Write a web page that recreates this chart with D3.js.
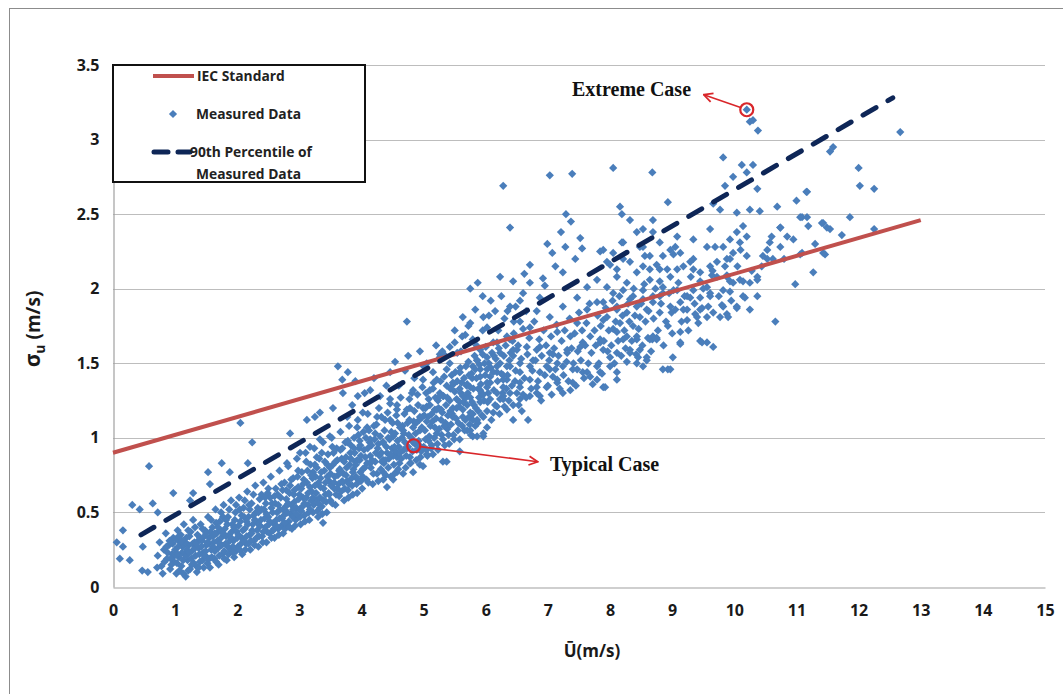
<!DOCTYPE html>
<html>
<head>
<meta charset="utf-8">
<script src="https://cdn.jsdelivr.net/npm/d3@7/dist/d3.min.js"></script>
<style>
  html, body { margin: 0; padding: 0; background: #fff; }
  svg { display: block; }
</style>
</head>
<body>
<svg id="chart" width="1063" height="694"></svg>
<script>
// Axis ticks
const xTicks = [0,1,2,3,4,5,6,7,8,9,10,11,12,13,14,15];
const yTicks = [0,0.5,1,1.5,2,2.5,3,3.5];

// IEC standard turbulence line (wind speed, sigma)
const iecLine = [[0,0.9],[13,2.46]];
// 90th percentile fit of the measured data
const p90Line = [[0.45,0.35],[12.55,3.28]];

// Highlighted cases: [wind speed, sigma]
const extremeCase = [10.2, 3.2];
const typicalCase = [4.84, 0.947];

// Measured data: [mean wind speed (m/s), sigma_u (m/s)]
const measuredLow = [
  [0.06,0.30],[0.11,0.19],[0.16,0.38],[0.16,0.27],[0.27,0.18],[0.31,0.55],[0.43,0.52],[0.48,0.27],
  [0.47,0.11],[0.56,0.10],[0.58,0.81],[0.64,0.56],[0.71,0.13],[0.72,0.50],
  [0.72,0.21],[0.75,0.30],[0.78,0.14],[0.8,0.09],[0.82,0.25],[0.85,0.36],[0.87,0.19],[0.9,0.28],
  [0.92,0.12],[0.95,0.22],[0.97,0.33],[0.98,0.17],[0.97,0.63],
  [1.0,0.25],[1.02,0.09],[1.04,0.38],[1.06,0.2],[1.08,0.3],[1.1,0.14],[1.12,0.27],[1.14,0.42],
  [1.15,0.22],[1.17,0.07],[1.18,0.33],[1.2,0.18],[1.22,0.28],[1.24,0.12],[1.25,0.37],[1.27,0.24],
  [1.29,0.45],[1.3,0.16],[1.24,0.58],[1.29,0.63],
  [1.31,0.3],[1.33,0.21],[1.35,0.1],[1.36,0.35],[1.38,0.26],[1.4,0.17],[1.41,0.42],[1.43,0.31],
  [1.45,0.23],[1.46,0.13],[1.48,0.38],[1.5,0.28],[1.51,0.2],[1.53,0.47],[1.55,0.33],[1.56,0.13],
  [1.58,0.25],[1.6,0.4],[1.56,0.69],[1.53,0.77],
  [1.62,0.3],[1.63,0.19],[1.65,0.52],[1.67,0.36],[1.69,0.26],[1.7,0.15],[1.72,0.44],[1.74,0.33],
  [1.76,0.22],[1.78,0.55],[1.8,0.39],[1.81,0.29],[1.83,0.18],[1.85,0.47],[1.87,0.35],[1.89,0.25],
  [1.9,0.58],[1.92,0.42],[1.94,0.31],[1.95,0.2],[1.97,0.5],[1.99,0.37],[1.75,0.83],[1.88,0.77],
  [2.01,0.27],[2.03,0.6],[2.05,0.44],[2.07,0.33],[2.08,0.22],[2.1,0.53],[2.12,0.39],[2.14,0.29],
  [2.16,0.64],[2.18,0.47],[2.2,0.35],[2.21,0.25],[2.23,0.56],[2.25,0.42],[2.27,0.31],[2.29,0.68],
  [2.3,0.5],[2.32,0.38],[2.34,0.27],[2.36,0.59],[2.38,0.45],[2.4,0.34],[2.17,0.83],[2.24,0.97],
  [2.05,1.1],
  [2.42,0.7],[2.43,0.52],[2.45,0.4],[2.47,0.3],[2.49,0.63],[2.5,0.47],[2.52,0.36],[2.54,0.74],
  [2.56,0.56],[2.58,0.43],[2.6,0.33],[2.62,0.66],[2.64,0.5],[2.66,0.39],[2.68,0.78],[2.7,0.6],
  [2.72,0.46],[2.74,0.36],[2.76,0.7],[2.78,0.54],[2.8,0.42],[2.8,0.83],
  [2.82,0.81],[2.84,0.63],[2.86,0.49],[2.88,0.39],[2.9,0.73],[2.92,0.57],[2.94,0.45],[2.96,0.86],
  [2.98,0.67],[3.0,0.52],[3.02,0.42],[3.04,0.77],[3.06,0.6],[3.08,0.48],[3.1,0.9],[3.12,0.7],
  [3.14,0.55],[3.16,0.45],[3.18,0.82],[3.2,0.64],[2.85,1.03],[3.01,0.90],
  [3.22,0.5],[3.24,0.93],[3.26,0.74],[3.28,0.58],[3.3,0.47],[3.32,0.86],[3.34,0.67],[3.36,0.54],
  [3.38,0.97],[3.4,0.78],[3.42,0.62],[3.44,0.5],[3.46,0.89],[3.48,0.71],[3.5,0.58],[3.52,1.0],
  [3.54,0.82],[3.56,0.66],[3.58,0.55],[3.38,0.43],[3.33,0.53],[3.17,0.94],[3.28,0.87],[3.22,0.77],
  [3.6,0.93],[3.62,0.75],[3.64,0.61],[3.66,1.04],[3.68,0.86],[3.7,0.7],[3.72,0.58],[3.74,0.97],
  [3.76,0.8],[3.78,0.65],[3.8,1.08],[3.82,0.9],[3.84,0.73],[3.86,0.62],[3.88,1.0],[3.9,0.84],
  [3.92,0.69],[3.94,1.12],[3.96,0.93],[3.98,0.77],[3.49,1.01],[3.33,0.99],[3.77,0.97],[3.93,0.85],
  // denser core of the low-wind cloud
  [0.83,0.17],[0.88,0.23],[0.91,0.31],[0.94,0.15],[0.99,0.21],[1.01,0.32],[1.03,0.16],[1.05,0.27],
  [1.07,0.11],[1.09,0.35],[1.11,0.23],[1.13,0.18],[1.16,0.3],[1.19,0.25],[1.21,0.11],[1.23,0.34],
  [1.26,0.19],[1.28,0.29],[1.32,0.26],[1.34,0.14],[1.37,0.31],[1.39,0.22],[1.42,0.27],[1.44,0.18],
  [1.47,0.34],[1.49,0.24],[1.52,0.16],[1.54,0.29],[1.57,0.37],[1.59,0.2],[1.61,0.34],[1.64,0.24],
  [1.66,0.43],[1.68,0.31],[1.71,0.21],[1.73,0.38],[1.75,0.28],[1.77,0.47],[1.79,0.24],[1.82,0.34],
  [1.84,0.42],[1.86,0.22],[1.88,0.31],[1.91,0.37],[1.93,0.27],[1.96,0.45],[1.98,0.24],[2.0,0.33],
  [2.02,0.41],[2.04,0.52],[2.06,0.29],[2.09,0.38],[2.11,0.47],[2.13,0.25],[2.15,0.34],[2.17,0.42],
  [2.19,0.55],[2.22,0.31],[2.24,0.38],[2.26,0.48],[2.28,0.28],[2.31,0.44],[2.33,0.53],[2.35,0.34],
  [2.37,0.41],[2.39,0.62],[2.41,0.3],[2.44,0.46],[2.46,0.56],[2.48,0.37],[2.51,0.42],[2.53,0.6],
  [2.55,0.33],[2.57,0.5],[2.59,0.39],[2.61,0.56],[2.63,0.45],[2.65,0.62],[2.67,0.35],[2.69,0.52],
  [2.71,0.41],[2.73,0.65],[2.75,0.48],[2.77,0.39],[2.79,0.59],[2.81,0.5],[2.83,0.44],[2.85,0.68],
  [2.87,0.55],[2.89,0.47],[2.91,0.62],[2.93,0.41],[2.95,0.53],[2.97,0.74],[2.99,0.59],[3.01,0.47],
  [3.03,0.66],[3.05,0.54],[3.07,0.72],[3.09,0.44],[3.11,0.6],[3.13,0.78],[3.15,0.5],[3.17,0.67],
  [3.19,0.58],[3.21,0.73],[3.23,0.55],[3.25,0.82],[3.27,0.63],[3.29,0.51],[3.31,0.7],[3.33,0.6],
  [3.35,0.77],[3.37,0.49],[3.39,0.66],[3.41,0.84],[3.43,0.57],[3.45,0.74],[3.47,0.63],[3.49,0.8],
  [3.51,0.68],[3.53,0.56],[3.55,0.9],[3.57,0.74],[3.59,0.62],[3.61,0.85],[3.63,0.69],[3.65,0.79],
  [3.67,0.64],[3.69,0.93],[3.71,0.76],[3.73,0.66],[3.75,0.87],[3.77,0.71],[3.79,0.6],[3.81,0.82],
  [3.83,0.95],[3.85,0.68],[3.87,0.79],[3.89,0.9],[3.91,0.74],[3.93,0.63],[3.95,1.02],[3.97,0.85],
  [3.99,0.71],
  [0.86,0.27],[0.93,0.19],[0.96,0.29],[1.04,0.22],[1.06,0.34],[1.11,0.31],[1.13,0.09],[1.18,0.21],
  [1.21,0.38],[1.23,0.23],[1.27,0.15],[1.32,0.4],[1.34,0.29],[1.38,0.13],[1.4,0.33],[1.44,0.39],
  [1.47,0.21],[1.5,0.36],[1.52,0.3],[1.55,0.19],[1.58,0.45],[1.61,0.27],[1.64,0.36],[1.66,0.17],
  [1.69,0.4],[1.72,0.29],[1.74,0.5],[1.77,0.36],[1.79,0.19],[1.82,0.45],[1.85,0.27],[1.87,0.52],
  [1.9,0.33],[1.93,0.23],[1.95,0.4],[1.98,0.55],[2.02,0.35],[2.04,0.25],[2.07,0.48],[2.1,0.31],
  [2.12,0.58],[2.15,0.44],[2.18,0.29],[2.2,0.52],[2.23,0.36],[2.26,0.62],[2.28,0.45],[2.31,0.33],
  [2.34,0.5],[2.36,0.41],[2.39,0.52],[2.42,0.37],[2.45,0.6],[2.47,0.49],[2.5,0.66],[2.52,0.44],
  [2.55,0.53],[2.58,0.38],[2.6,0.61],[2.63,0.41],[2.66,0.55],[2.68,0.46],[2.71,0.69],[2.74,0.52],
  [2.76,0.43],[2.79,0.65],[2.82,0.56],[2.84,0.4],[2.87,0.72],[2.9,0.52],[2.92,0.65],[2.95,0.49],
  [2.98,0.78],[3.0,0.62],[3.03,0.51],[3.06,0.69],[3.08,0.56],[3.11,0.84],[3.14,0.63],[3.17,0.52],
  [3.19,0.75],[3.22,0.6],[3.25,0.68],[3.28,0.8],[3.31,0.56],[3.34,0.73],[3.36,0.9],[3.39,0.58],
  [3.42,0.7],[3.45,0.82],[3.48,0.62],[3.5,0.76],[3.53,0.94],[3.56,0.7],[3.58,0.84],[3.61,0.66],
  [3.64,0.78],[3.66,0.92],[3.69,0.71],[3.72,0.84],[3.75,0.75],[3.78,0.98],[3.8,0.69],[3.83,0.86],
  [3.86,0.77],[3.88,0.93],[3.91,0.82],[3.94,0.72],[3.97,0.98],[3.99,0.88]
];

const measuredMid = [
  [3.62,1.48],[3.78,1.44],[3.69,1.39],[3.9,1.38],[3.70,1.30],[3.94,1.28],[4.14,1.32],[4.30,1.28],
  [4.46,1.26],[3.85,1.22],[3.54,1.20],[3.33,1.17],[3.12,1.12],[3.25,1.14],[3.77,1.14],[4.02,1.17],
  [4.25,1.14],[3.93,1.07],[4.09,1.07],[4.46,1.12],[4.57,1.19],[4.78,1.20],[4.83,1.07],[4.67,1.05],
  [4.51,1.01],[4.35,0.97],[4.14,0.99],[3.98,0.95],[4.14,0.83],[4.35,0.85],[4.57,0.87],[4.78,0.83],
  [4.94,0.82],[5.05,0.92],[5.15,0.89],[5.37,0.84],[5.58,0.91],[4.02,0.74],[4.35,0.77],[4.57,0.77],
  [4.41,0.67],[4.51,0.72],[4.83,0.77],[4.99,0.81],[5.31,0.84],
  [4.01,0.66],[4.03,1.04],[4.06,0.87],[4.08,0.72],[4.1,1.16],[4.13,0.97],[4.15,0.8],[4.18,0.69],
  [4.2,1.08],[4.23,0.9],[4.25,0.76],[4.28,1.2],[4.3,1.01],[4.33,0.84],[4.35,0.72],[4.38,1.12],
  [4.4,0.94],[4.43,0.8],[4.46,1.23],[4.48,1.04],
  [4.51,0.88],[4.53,0.76],[4.56,1.15],[4.58,0.98],[4.61,0.83],[4.63,1.27],[4.66,1.08],[4.68,0.92],
  [4.71,0.8],[4.73,1.19],[4.76,1.02],[4.78,0.87],[4.81,1.3],[4.84,1.11],[4.86,0.96],[4.88,0.85],
  [4.91,1.22],[4.94,1.05],[4.96,0.91],[4.98,1.34],
  [5.01,1.15],[5.03,0.99],[5.06,0.88],[5.08,1.26],[5.11,1.08],[5.13,0.95],[5.16,1.37],[5.18,1.19],
  [5.21,1.03],[5.23,0.92],[5.26,1.3],[5.28,1.12],[5.31,0.99],[5.33,1.41],[5.36,1.22],[5.38,1.06],
  [5.41,0.96],[5.43,1.33],[5.46,1.16],[5.48,1.02],
  [5.51,1.44],[5.53,1.26],[5.56,1.1],[5.58,0.99],[5.61,1.37],[5.63,1.19],[5.66,1.05],[5.68,1.48],
  [5.71,1.3],[5.73,1.14],[5.76,1.02],[5.78,1.4],[5.81,1.22],[5.83,1.08],[5.86,1.52],[5.88,1.33],
  [5.67,1.69],[4.94,1.58],[4.75,1.55],[4.54,1.51],[4.46,1.44],[4.73,1.78],
  [5.26,1.56],[5.42,1.50],[5.58,1.44],[5.91,1.59],[6.12,1.64],[6.39,1.66],[6.44,1.55],[6.18,1.48],
  [5.91,1.46],[5.70,1.36],[6.02,1.34],[6.34,1.39],[6.50,1.30],[6.23,1.26],[5.91,1.24],[5.58,1.24],
  [5.31,1.28],[5.21,1.19],[5.47,1.14],[5.79,1.12],[6.02,1.07],[5.70,1.05],[5.37,1.07],[5.05,1.21],
  [4.94,1.14],[5.10,1.32],[4.99,1.39],[5.15,1.44],[4.83,1.32],[5.05,1.11],[5.79,1.01],[5.96,1.01],
  // denser core around 4-6.5 m/s
  [4.02,0.79],[4.04,0.92],[4.07,1.0],[4.09,0.83],[4.11,0.7],[4.12,1.05],[4.14,0.88],[4.16,0.95],
  [4.19,0.76],[4.21,0.99],[4.22,0.84],[4.24,1.09],[4.26,0.93],[4.27,0.71],[4.29,0.88],[4.31,0.79],
  [4.32,1.14],[4.34,0.97],[4.36,0.83],[4.37,1.05],[4.39,0.75],[4.41,0.9],[4.42,1.17],[4.44,0.86],
  [4.45,0.99],[4.47,0.74],[4.49,0.93],[4.5,1.1],[4.52,0.82],[4.54,1.03],[4.55,0.91],[4.57,1.22],
  [4.59,0.79],[4.6,0.94],[4.62,1.07],[4.64,0.86],[4.65,1.0],[4.67,0.76],[4.69,1.16],[4.7,0.97],
  [4.72,0.88],[4.74,1.1],[4.75,0.94],[4.77,1.26],[4.79,0.83],[4.8,1.0],[4.82,0.91],[4.85,1.18],
  [4.87,1.03],[4.89,0.92],[4.9,1.29],[4.92,0.98],[4.93,1.12],[4.95,0.87],[4.97,1.07],[4.99,1.2],
  [5.0,0.94],[5.02,1.05],[5.04,1.3],[5.05,0.89],[5.07,1.14],[5.09,1.01],[5.1,1.22],[5.12,0.93],
  [5.14,1.11],[5.15,1.33],[5.17,1.0],[5.19,1.27],[5.2,1.13],[5.22,0.96],[5.24,1.2],[5.25,1.06],
  [5.27,1.38],[5.29,1.02],[5.3,1.17],[5.32,1.28],[5.34,0.95],[5.35,1.1],[5.37,1.35],[5.39,1.15],
  [5.4,1.02],[5.42,1.25],[5.44,1.09],[5.45,1.42],[5.47,1.2],[5.49,0.99],[5.5,1.31],[5.52,1.13],
  [5.54,1.38],[5.55,1.05],[5.57,1.21],[5.59,1.47],[5.6,1.3],[5.62,1.08],[5.64,1.24],[5.65,1.4],
  [5.67,1.12],[5.69,1.35],[5.7,1.22],[5.72,1.51],[5.74,1.09],[5.75,1.27],[5.77,1.43],[5.79,1.16],
  [5.8,1.33],[5.82,1.55],[5.84,1.2],[5.85,1.4],[5.87,1.1],[5.89,1.27],[5.9,1.49],[5.92,1.36],
  [5.94,1.15],[5.95,1.56],[5.97,1.25],[5.99,1.42],[6.0,1.61],[6.02,1.18],[6.04,1.3],[6.05,1.5],
  [6.07,1.41],[6.09,1.12],[6.1,1.57],[6.13,1.32],[6.15,1.22],[6.16,1.53],[6.19,1.38],[6.21,1.6],
  [6.22,1.16],[6.25,1.43],[6.27,1.3],[6.29,1.55],[6.3,1.21],[6.32,1.62],[6.35,1.42],[6.37,1.25],
  [6.4,1.57],[6.42,1.35],
  [5.5,1.72],[5.83,1.86],[6.08,1.92],[6.3,1.8],[6.48,1.88],[6.62,2.1],[6.95,2.02],[7.12,2.15],
  [5.95,1.95],
  [4.05,0.8],[4.1,0.93],[4.17,0.85],[4.22,1.03],[4.27,0.96],[4.32,0.9],[4.38,0.85],[4.43,1.0],
  [4.47,0.89],[4.53,0.94],[4.58,1.1],[4.62,0.9],[4.68,1.03],[4.73,0.93],[4.77,1.12],[4.83,0.97],
  [4.88,1.1],[4.93,0.95],[4.98,1.14],[5.03,1.2],[5.08,0.98],[5.13,1.16],[5.18,1.07],[5.23,1.25],
  [5.28,1.19],[5.33,1.08],[5.38,1.27],[5.43,1.18],[5.48,1.36],[5.53,1.2],[5.58,1.33],[5.63,1.14],
  [5.68,1.27],[5.73,1.42],[5.78,1.24],[5.83,1.46],[5.88,1.18],[5.93,1.3],[5.98,1.5],[6.03,1.24],
  [6.08,1.47],[6.13,1.55],[6.18,1.3],[6.23,1.5],[6.28,1.42],[6.33,1.33],[6.38,1.52],[6.43,1.65],
  [6.47,1.38],
  [5.05,1.5],[5.2,1.62],[5.35,1.55],[5.5,1.64],[5.6,1.58],[5.72,1.75],[5.85,1.62],[5.95,1.72],
  [6.05,1.82],[6.2,1.72],[6.25,1.95],[6.35,1.85],[6.45,1.78],[6.55,1.92],[6.65,1.85],[4.6,1.35],
  [4.7,1.45],[4.85,1.4],[5.0,1.48],[4.4,1.35],[4.2,1.4],[4.05,1.3]
];

const measuredHigh = [
  [6.99,2.30],[7.28,2.28],[7.55,2.27],[7.07,2.24],[6.71,2.16],[7.44,2.20],[7.84,2.25],[8.0,2.16],
  [8.21,2.20],[8.19,2.31],[8.53,2.28],[6.23,2.08],[6.44,2.05],[5.87,2.04],[5.75,2.0],[6.71,2.04],
  [6.92,2.07],[7.24,2.11],[6.39,1.88],[6.15,1.85],[5.96,1.81],[5.63,1.81],[5.75,1.77],[6.02,1.74],
  [5.62,1.68],[5.79,1.66],[5.42,1.61],[5.30,1.58],[6.39,2.41],[7.29,2.50],[7.37,2.45],[7.21,2.38],
  [7.52,2.34],[6.28,2.69],[7.03,2.76],[7.39,2.77],
  [6.6,1.97],[6.87,1.94],[6.82,1.85],[6.55,1.78],[6.71,1.74],[7.03,1.81],[7.24,1.88],[7.47,1.94],
  [7.63,2.01],[7.79,2.06],[7.95,2.01],[8.11,2.08],[8.27,2.04],[8.43,2.11],[8.64,2.06],[8.80,2.13],
  [8.85,2.01],[7.63,1.86],[7.79,1.91],[7.89,1.79],[8.11,1.86],[8.32,1.93],[8.48,1.81],[7.47,1.77],
  [7.15,1.71],[7.36,1.68],
  [5.26,1.54],[5.54,1.57],[6.18,1.64],[6.34,1.68],[6.50,1.59],[6.87,1.61],[7.08,1.56],[7.31,1.59],
  [7.56,1.64],[7.84,1.66],[8.11,1.71],[8.43,1.66],[8.61,1.67],[8.75,1.67],[8.59,1.54],[8.43,1.50],
  [8.32,1.59],[8.0,1.54],[7.79,1.48],[7.56,1.44],[7.40,1.46],[7.24,1.48],[7.03,1.46],[6.87,1.44],
  [6.71,1.48],[6.55,1.44],[6.39,1.48],[6.18,1.44],[6.02,1.46],[5.79,1.48],[5.58,1.44],[5.37,1.46],
  [5.21,1.39],[5.47,1.37],[5.75,1.34],[6.02,1.37],[6.28,1.34],[6.55,1.37],[6.82,1.34],[7.15,1.39],
  [7.40,1.37],[7.68,1.41],[7.89,1.34],[8.11,1.39],[7.84,1.44],[8.53,1.48],[8.85,1.46],[5.26,1.28],
  [5.63,1.28],[5.96,1.29],[6.28,1.28],[6.60,1.29],[6.87,1.28],[7.24,1.30],
  [5.86,1.01],[5.96,1.03],[5.75,1.05],[6.44,1.12],[6.68,1.12],[6.58,1.18],[6.34,1.19],[6.18,1.21],
  [6.07,1.26],[7.36,1.32],[7.15,1.37],[6.98,1.34],[6.82,1.30],[6.71,1.28],[7.63,1.44],[7.79,1.39],
  [7.92,1.34],[8.11,1.44],[8.0,1.48],[8.27,1.51],[8.45,1.54],[8.59,1.52],[8.93,1.46],[9.01,1.54],
  [9.13,1.63],[8.68,1.66],[8.48,1.59],[8.32,1.57],[8.11,1.57],[7.89,1.59],[7.52,1.61],[7.31,1.57],
  [7.15,1.50],[6.98,1.48],[7.47,1.46],[7.08,1.41],[6.71,1.39],[6.55,1.34],[6.39,1.30],[6.28,1.26],
  [6.12,1.17],[5.96,1.14],[5.86,1.12],[5.75,1.17],[6.55,1.26],[6.44,1.22],[6.28,1.39],[6.07,1.37],
  [5.91,1.32],[5.91,1.41],[6.12,1.44],[6.34,1.48],[6.55,1.50],[6.76,1.52],[6.82,1.59],[7.03,1.57],
  [6.66,1.61],[6.44,1.59],[6.23,1.57],[6.02,1.54],[5.86,1.52],[7.68,1.68],[7.84,1.64],[8.21,1.66],
  [8.43,1.68],
  [8.05,2.81],[8.68,2.78],[9.82,2.88],[10.12,2.83],[10.30,2.83],[10.20,2.78],[9.98,2.75],[9.85,2.69],
  [10.37,2.67],[11.54,2.92],[11.16,2.65],[11.0,2.59],[10.69,2.55],[10.41,2.52],[10.25,2.53],
  [10.04,2.51],[9.77,2.53],[9.66,2.57],[8.93,2.58],[8.16,2.55],[8.19,2.50],[8.32,2.46],[8.69,2.46],
  [11.06,2.48],[11.43,2.44],[11.54,2.40],[10.74,2.41],[10.85,2.35],[10.95,2.33],[10.57,2.31],
  [10.74,2.28],[10.53,2.26],[10.62,2.20],[10.46,2.22],[10.14,2.42],[10.04,2.38],[10.20,2.35],
  [10.09,2.31],[9.93,2.33],[9.98,2.24],[10.20,2.22],[9.88,2.20],[9.61,2.40],[9.56,2.28],[9.69,2.28],
  [9.82,2.28],[9.34,2.33],[9.08,2.35],[9.05,2.28],[8.97,2.26],[9.13,2.24],[8.80,2.31],[8.69,2.38],
  [8.53,2.40],[8.43,2.38],[8.48,2.28],[8.64,2.22],[8.85,2.22],[8.21,2.31],[8.05,2.24],[7.89,2.26],
  [7.95,2.18],[8.11,2.13],[8.32,2.18],[8.53,2.15],[8.75,2.16],[8.92,2.13],[9.18,2.15],[9.34,2.20],
  [9.45,2.11],[9.61,2.15],[9.72,2.08],[9.88,2.08],[10.09,2.06],[10.25,2.04],[10.37,2.08],[11.27,2.11],
  [10.98,2.03],[11.43,2.24],
  [7.89,1.91],[8.05,1.97],[8.21,1.99],[8.37,1.95],[8.53,1.99],[8.69,1.95],[8.85,1.97],[9.08,1.99],
  [9.24,1.95],[9.34,1.99],[9.56,2.01],[9.45,1.94],[9.61,1.95],[9.82,1.99],[9.98,2.04],[10.14,1.95],
  [10.04,1.88],[10.25,1.86],[9.82,1.88],[9.66,1.84],[9.45,1.86],[9.24,1.86],[9.13,1.91],[8.97,1.88],
  [8.80,1.84],[8.59,1.86],[8.43,1.88],[8.27,1.84],[8.11,1.88],[7.95,1.81],[8.16,1.77],[8.37,1.75],
  [8.05,1.73],[8.27,1.68],[8.64,1.66],[8.69,1.68],[9.13,1.71],[9.13,1.64],[9.45,1.65],[9.56,1.64],
  [9.66,1.61],[9.24,1.79],[9.40,1.81],[9.56,1.81],[9.77,1.81],[9.88,1.83],[10.66,1.78],[10.37,1.95],
  [8.97,1.46],[8.75,1.66],[9.48,1.64],[8.93,1.75],[8.99,1.84],[9.18,1.86],[9.37,1.83],[9.48,1.87],
  [9.90,1.81],[9.80,1.89],[10.04,1.87],[10.17,1.94],[9.93,1.98],[9.61,1.97],[9.29,1.94],[9.02,1.99],
  [8.80,1.95],[8.69,1.91],[8.53,1.93],[10.37,2.06],[10.14,2.05],[9.93,2.05],[9.88,2.09],[9.64,2.09],
  [9.45,2.05],[9.34,2.13],[9.72,2.18],[9.93,2.20],[10.53,2.20],[11.06,2.23],[8.97,2.08],[8.80,2.05],
  [8.64,2.13],[9.08,2.13],[8.56,2.22],[9.02,2.23],[9.29,2.18],
  [12.67,3.05],[11.59,2.95],[12.0,2.81],[12.02,2.69],[12.25,2.67],[11.17,2.65],[11.86,2.48],
  [11.09,2.48],[11.17,2.48],[11.41,2.44],[11.49,2.41],[11.19,2.42],[12.25,2.40],[11.73,2.36],
  [11.30,2.30],[11.09,2.24],[11.46,2.23],[10.74,2.41],
  [10.2,3.2],[10.25,3.12],[10.30,3.13],[10.38,3.06],
  // denser core from 6.5 to 11 m/s
  [6.45,1.7],[6.48,1.45],[6.52,1.62],[6.53,1.22],[6.57,1.53],[6.6,1.73],[6.62,1.4],[6.65,1.27],
  [6.67,1.56],[6.7,1.67],[6.73,1.33],[6.75,1.45],[6.78,1.78],[6.8,1.52],[6.84,1.38],[6.86,1.66],
  [6.89,1.25],[6.9,1.55],[6.93,1.72],[6.95,1.42],[6.97,1.62],[7.0,1.35],[7.02,1.52],[7.05,1.68],
  [7.06,1.29],[7.1,1.6],[7.12,1.46],[7.14,1.76],[7.17,1.55],[7.19,1.33],[7.22,1.65],[7.25,1.42],
  [7.27,1.72],[7.3,1.51],[7.33,1.38],[7.35,1.8],[7.38,1.6],[7.41,1.5],[7.43,1.7],[7.45,1.35],
  [7.48,1.58],[7.5,1.84],[7.53,1.52],[7.55,1.72],[7.58,1.4],[7.6,1.62],[7.62,1.77],[7.65,1.5],
  [7.67,1.9],[7.7,1.57],[7.72,1.36],[7.75,1.72],[7.77,1.62],[7.8,1.82],[7.82,1.5],[7.85,1.75],
  [7.87,1.43],[7.9,1.65],[7.93,1.87],[7.96,1.58],[7.98,1.72],[8.02,1.62],[8.04,1.92],[8.07,1.5],
  [8.09,1.78],[8.13,1.65],[8.15,1.95],[8.18,1.55],[8.2,1.82],[8.23,1.72],[8.25,1.6],[8.29,1.9],
  [8.31,1.78],[8.35,1.65],[8.38,2.0],[8.4,1.82],[8.42,1.56],[8.46,1.73],[8.5,1.9],[8.52,1.62],
  [8.55,2.03],[8.57,1.78],[8.62,1.85],[8.66,1.58],[8.7,1.8],[8.73,2.0],[8.77,1.72],[8.82,1.9],
  [8.86,1.62],[8.9,1.78],[8.95,1.97],[9.0,1.7],[9.05,1.86],[9.1,2.04],[9.15,1.78],[9.2,1.95],
  [9.26,1.72],[9.3,2.08],[9.36,1.9],[9.42,1.77],[9.5,2.0],[9.58,1.88],[9.65,2.12],[9.75,1.95],
  [9.85,2.15],[9.95,1.92],[10.05,2.15],[10.1,2.26],[10.28,2.12],[10.44,2.15],[10.6,2.35],[10.8,2.2]
];

const measured = measuredLow.concat(measuredMid, measuredHigh);

// Layout
const W = 1063, H = 694;
const plot = { left: 113, right: 1045, top: 65, bottom: 587 };

const svg = d3.select("#chart");
const x = d3.scaleLinear().domain([0, 15]).range([plot.left, plot.right]);
const y = d3.scaleLinear().domain([0, 3.5]).range([plot.bottom, plot.top]);

const labelFont = "'Open Sans', Lato, sans-serif";
const serifFont = "'Liberation Serif', 'DejaVu Serif', serif";
const blue = "#4A7EBB", red = "#C0504D", navy = "#0E2657", annot = "#D9262A";

// Outer chart frame
svg.append("rect")
  .attr("x", 9.5).attr("y", 8.5).attr("width", W + 20).attr("height", H + 20)
  .attr("fill", "#fff").attr("stroke", "#8c8c8c").attr("stroke-width", 1);

// Horizontal gridlines
svg.append("g")
  .selectAll("line").data(yTicks.filter(d => d > 0)).join("line")
  .attr("x1", plot.left).attr("x2", plot.right)
  .attr("y1", d => Math.round(y(d)) + 0.5).attr("y2", d => Math.round(y(d)) + 0.5)
  .attr("stroke", "#bdbdbd").attr("stroke-width", 1.2);

// Axes lines and tick labels
const xAxis = d3.axisBottom(x).tickValues(xTicks).tickSize(0).tickPadding(17).tickFormat(d3.format("d"));
const yAxis = d3.axisLeft(y).tickValues(yTicks).tickSize(0).tickPadding(14).tickFormat(d => String(d));

const gx = svg.append("g").attr("transform", `translate(0,${Math.round(plot.bottom) + 0.5})`).call(xAxis);
const gy = svg.append("g").attr("transform", `translate(${plot.left + 0.5},0)`).call(yAxis);
[gx, gy].forEach(g => {
  g.select(".domain").attr("stroke", "#a0a0a0").attr("stroke-width", 1.2);
  g.selectAll("text")
    .attr("font-family", labelFont).attr("font-weight", 700)
    .attr("font-size", 16).attr("fill", "#1a1a1a");
});

// Axis titles
svg.append("text")
  .attr("transform", `translate(40,${(plot.top + plot.bottom) / 2 + 3}) rotate(-90)`)
  .attr("text-anchor", "middle")
  .attr("font-family", labelFont).attr("font-weight", 700).attr("font-size", 21).attr("fill", "#1a1a1a")
  .call(t => {
    t.append("tspan").text("σ");
    t.append("tspan").attr("font-size", 14).attr("dy", 5).text("u");
    t.append("tspan").attr("dy", -5).attr("font-size", 19).text(" (m/s)");
  });

svg.append("text")
  .attr("x", 592).attr("y", 657).attr("text-anchor", "middle")
  .attr("font-family", labelFont).attr("font-weight", 700).attr("font-size", 17).attr("fill", "#1a1a1a")
  .text("Ū(m/s)");

// Scatter of measured data
const diamond = d3.symbol(d3.symbolSquare, 34);
svg.append("g")
  .selectAll("path").data(measured).join("path")
  .attr("d", diamond)
  .attr("transform", d => `translate(${x(d[0])},${y(d[1])}) rotate(45)`)
  .attr("fill", blue);

// Reference lines
const line = d3.line().x(d => x(d[0])).y(d => y(d[1]));
svg.append("path").datum(iecLine).attr("d", line)
  .attr("fill", "none").attr("stroke", red).attr("stroke-width", 4);
svg.append("path").datum(p90Line).attr("d", line)
  .attr("fill", "none").attr("stroke", navy).attr("stroke-width", 5)
  .attr("stroke-dasharray", "15,13.8").attr("stroke-linecap", "round");

// Annotations
const defs = svg.append("defs");
defs.append("marker").attr("id", "arrowHead")
  .attr("viewBox", "0 0 10 10").attr("refX", 9).attr("refY", 5)
  .attr("markerWidth", 11).attr("markerHeight", 11).attr("markerUnits", "userSpaceOnUse")
  .attr("orient", "auto")
  .append("path").attr("d", "M1,1 L9,5 L1,9").attr("fill", "none")
  .attr("stroke", annot).attr("stroke-width", 1.6);

function callout(pt, tip, label, tx, ty) {
  const cx = x(pt[0]), cy = y(pt[1]);
  svg.append("circle").attr("cx", cx).attr("cy", cy).attr("r", 6.5)
    .attr("fill", "none").attr("stroke", annot).attr("stroke-width", 2.2);
  const ang = Math.atan2(tip[1] - cy, tip[0] - cx);
  svg.append("line")
    .attr("x1", cx + 6.5 * Math.cos(ang)).attr("y1", cy + 6.5 * Math.sin(ang))
    .attr("x2", tip[0]).attr("y2", tip[1])
    .attr("stroke", annot).attr("stroke-width", 1.6)
    .attr("marker-end", "url(#arrowHead)");
  svg.append("text").attr("x", tx).attr("y", ty)
    .attr("font-family", serifFont).attr("font-weight", 700).attr("font-size", 20)
    .attr("fill", "#111").text(label);
}
callout(extremeCase, [x(extremeCase[0]) - 43, y(extremeCase[1]) - 15], "Extreme Case", 572, 96);
callout(typicalCase, [x(typicalCase[0]) + 124, y(typicalCase[1]) + 16], "Typical Case", 550, 471);

// Legend
const lg = svg.append("g");
lg.append("rect").attr("x", 113).attr("y", 65).attr("width", 252).attr("height", 117)
  .attr("fill", "#fff").attr("stroke", "#111").attr("stroke-width", 2);
const legendText = (tx, ty, s) => lg.append("text").attr("x", tx).attr("y", ty)
  .attr("font-family", labelFont).attr("font-weight", 700).attr("font-size", 13.8)
  .attr("fill", "#222").text(s);
lg.append("line").attr("x1", 153).attr("x2", 194).attr("y1", 76).attr("y2", 76)
  .attr("stroke", red).attr("stroke-width", 4);
legendText(197, 81, "IEC Standard");
lg.append("path").attr("d", diamond).attr("transform", "translate(173,114) rotate(45)").attr("fill", blue);
legendText(196, 119, "Measured Data");
lg.append("line").attr("x1", 154).attr("x2", 190).attr("y1", 152).attr("y2", 152)
  .attr("stroke", navy).attr("stroke-width", 5)
  .attr("stroke-dasharray", "14,10").attr("stroke-linecap", "round");
legendText(190, 157, "90th Percentile of");
legendText(196, 179, "Measured Data");
</script>
</body>
</html>
